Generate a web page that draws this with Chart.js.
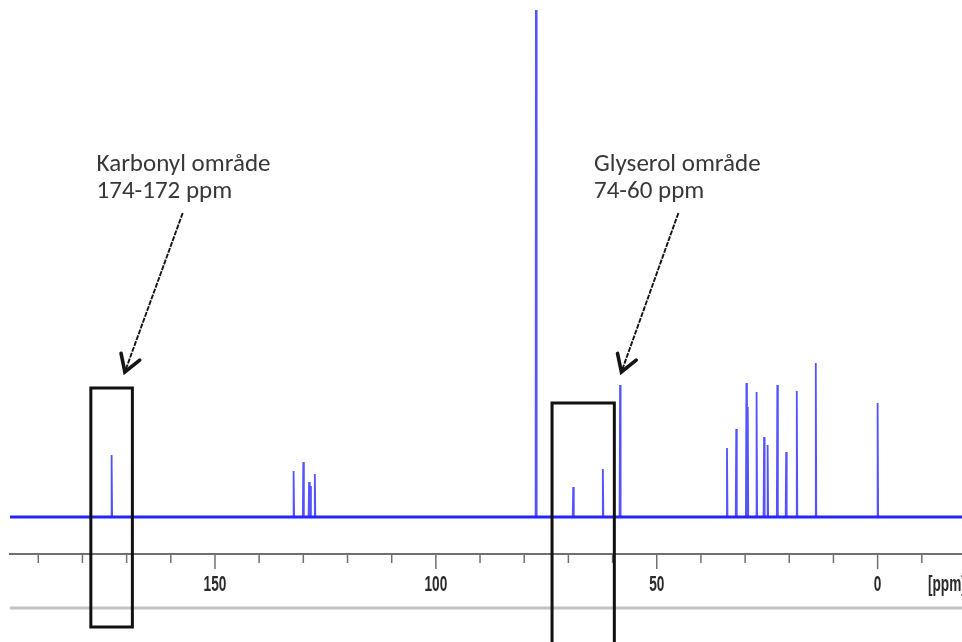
<!DOCTYPE html>
<html>
<head>
<meta charset="utf-8">
<script src="https://cdn.jsdelivr.net/npm/chart.js@4/dist/chart.umd.min.js"></script>
<style>
  html, body { margin: 0; padding: 0; background: #ffffff; }
  #wrap { width: 962px; height: 642px; position: relative; }
</style>
</head>
<body>
<div id="wrap"><canvas id="c" width="962" height="642"></canvas></div>
<script>
// 13C NMR spectrum: peak positions (ppm) and peak heights (arbitrary intensity)
const shifts  = [173.4, 132.2, 130.0, 128.7, 128.4, 127.4, 77.3, 68.9, 62.2, 58.3,
                 34.1, 32.0, 29.7, 29.4, 27.4, 25.7, 24.9, 22.7, 20.7, 18.3, 14.0, 0.0];
const heights = [62, 46, 55, 35, 31, 43, 900, 30, 48, 132,
                 69, 88, 134, 110, 125, 80, 72, 132, 65, 126, 154, 114];

// Spectral window and axis ticks (ppm)
const ppmRange   = [196.4, -19.1];
const majorTicks = [150, 100, 50, 0];
const axisUnit   = '[ppm]';

// Marked regions of the spectrum
const regionNames  = ['Karbonyl område', 'Glyserol område'];
const regionLabels = ['174-172 ppm', '74-60 ppm'];
const regionRanges = [[178.1, 168.7], [73.7, 59.6]];

// Build the line trace: flat baseline with a narrow spike at every peak
const halfWidth = 0.12;
const spectrum = [{ x: ppmRange[0], y: 0 }];
shifts.forEach((s, i) => {
  spectrum.push({ x: s + halfWidth, y: 0 }, { x: s, y: heights[i] }, { x: s - halfWidth, y: 0 });
});
spectrum.push({ x: ppmRange[1], y: 0 });
const baselineTrace = [{ x: ppmRange[0], y: 0 }, { x: ppmRange[1], y: 0 }];

// Annotation layout (ppm / intensity units)
const notes = [
  { text: [176.8, 346], tail: [157.3, 304], tip: [170.4, 145], boxTop: 129, boxDrop: 73 },
  { text: [64.2, 346],  tail: [45.1, 304],  tip: [58.0, 145],  boxTop: 114, boxDrop: 95 }
];

// condensed bold text used for the axis labels
function drawNarrow(ctx, str, x, y, align) {
  ctx.save();
  ctx.translate(x, y);
  ctx.scale(0.62, 1);
  ctx.textAlign = align;
  ctx.textBaseline = 'middle';
  ctx.fillText(str, 0, 0);
  ctx.restore();
}

const axisDecor = {
  id: 'axisDecor',
  afterDraw(chart) {
    const ctx = chart.ctx;
    const xs = chart.scales.x;
    const ys = chart.scales.y;
    ctx.save();
    // tick marks: long at labelled positions, short between
    ctx.strokeStyle = '#707070';
    ctx.lineWidth = 1.5;
    xs.ticks.forEach(t => {
      const px = xs.getPixelForValue(t.value);
      const len = majorTicks.includes(t.value) ? 15 : 9;
      ctx.beginPath();
      ctx.moveTo(px, xs.top);
      ctx.lineTo(px, xs.top + len);
      ctx.stroke();
    });
    // tick labels and unit
    ctx.fillStyle = '#2a2a2a';
    ctx.font = "bold 22px 'Liberation Sans', Arial, sans-serif";
    majorTicks.forEach(v => drawNarrow(ctx, String(v), xs.getPixelForValue(v), xs.top + 31, 'center'));
    drawNarrow(ctx, axisUnit, 928, xs.top + 31, 'left');
    // lower frame line
    ctx.strokeStyle = '#c2c2c2';
    ctx.lineWidth = 3;
    ctx.beginPath();
    ctx.moveTo(xs.left, xs.top + 54);
    ctx.lineTo(xs.right, xs.top + 54);
    ctx.stroke();

    // region boxes, arrows and captions
    notes.forEach((n, i) => {
      const [a, b] = regionRanges[i];
      const x1 = xs.getPixelForValue(a), x2 = xs.getPixelForValue(b);
      const yt = ys.getPixelForValue(n.boxTop), yb = xs.top + n.boxDrop;
      ctx.strokeStyle = '#111111';
      ctx.lineWidth = 3;
      ctx.setLineDash([]);
      ctx.strokeRect(x1, yt, x2 - x1, yb - yt);

      const tx = xs.getPixelForValue(n.tail[0]), ty = ys.getPixelForValue(n.tail[1]);
      const hx = xs.getPixelForValue(n.tip[0]),  hy = ys.getPixelForValue(n.tip[1]);
      const ang = Math.atan2(ty - hy, tx - hx);   // direction from tip back to tail
      ctx.strokeStyle = '#151515';
      ctx.lineWidth = 1.9;
      ctx.setLineDash([5, 1.2]);
      ctx.beginPath();
      ctx.moveTo(tx, ty);
      ctx.lineTo(hx + Math.cos(ang) * 3, hy + Math.sin(ang) * 3);
      ctx.stroke();
      // chevron head
      ctx.setLineDash([]);
      ctx.lineWidth = 3.6;
      ctx.lineCap = 'round';
      ctx.lineJoin = 'miter';
      const arm = 19, half = 0.55;
      ctx.beginPath();
      ctx.moveTo(hx + arm * Math.cos(ang - half), hy + arm * Math.sin(ang - half));
      ctx.lineTo(hx, hy);
      ctx.lineTo(hx + arm * Math.cos(ang + half), hy + arm * Math.sin(ang + half));
      ctx.stroke();
      ctx.lineCap = 'butt';

      ctx.fillStyle = '#383838';
      ctx.font = "25px Carlito, Lato, 'Open Sans', sans-serif";
      ctx.textAlign = 'left';
      ctx.textBaseline = 'alphabetic';
      const lx = xs.getPixelForValue(n.text[0]), ly = ys.getPixelForValue(n.text[1]);
      ctx.fillText(regionNames[i], lx, ly);
      ctx.fillText(regionLabels[i], lx, ly + 27);
    });
    ctx.restore();
  }
};

new Chart(document.getElementById('c'), {
  type: 'line',
  data: {
    datasets: [
      { data: spectrum, borderColor: 'rgba(35,35,255,0.78)', borderWidth: 1.8,
        pointRadius: 0, tension: 0, fill: false },
      { data: baselineTrace, borderColor: '#2a2aff', borderWidth: 3,
        pointRadius: 0, tension: 0, fill: false }
    ]
  },
  options: {
    responsive: false,
    animation: false,
    devicePixelRatio: 1,
    layout: { padding: { top: 10, left: 10, right: 0, bottom: 0 } },
    plugins: { legend: { display: false }, tooltip: { enabled: false } },
    scales: {
      x: {
        type: 'linear',
        reverse: true,
        min: ppmRange[1],
        max: ppmRange[0],
        grid: { display: false, drawTicks: false },
        border: { display: true, color: '#707070', width: 2 },
        ticks: {
          display: false,
          stepSize: 10,
          autoSkip: false,
          includeBounds: false
        },
        afterFit: s => { s.height = 88; }
      },
      y: {
        display: false,
        min: -37,
        max: 507
      }
    }
  },
  plugins: [axisDecor]
});
</script>
</body>
</html>
